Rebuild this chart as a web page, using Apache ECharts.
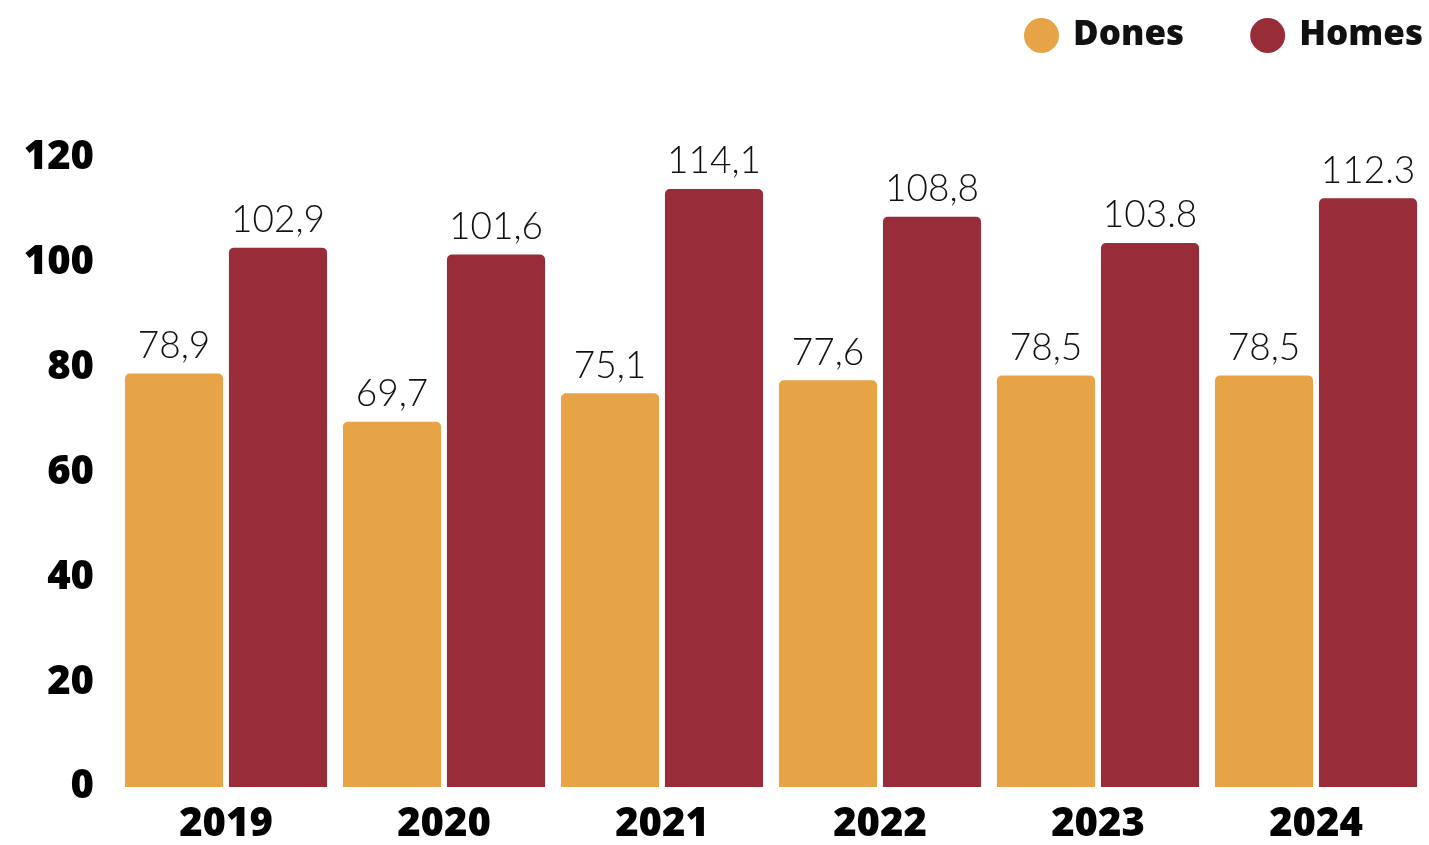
<!DOCTYPE html>
<html>
<head>
<meta charset="utf-8">
<script src="https://cdn.jsdelivr.net/npm/echarts@6/dist/echarts.min.js"></script>
<style>
html,body{margin:0;padding:0;background:#fff;}
#chart{width:1429px;height:845px;}
</style>
</head>
<body>
<div id="chart"></div>
<script>
const categories = ['2019', '2020', '2021', '2022', '2023', '2024'];
const donesValues = [78.9, 69.7, 75.1, 77.6, 78.5, 78.5];
const homesValues = [102.9, 101.6, 114.1, 108.8, 103.8, 112.3];
const donesLabels = ['78,9', '69,7', '75,1', '77,6', '78,5', '78,5'];
const homesLabels = ['102,9', '101,6', '114,1', '108,8', '103.8', '112.3'];
const seriesNames = ['Dones', 'Homes'];
const yTicks = [0, 20, 40, 60, 80, 100, 120];

const chart = echarts.init(document.getElementById('chart'));
const valueLabel = (labels) => ({
  show: true,
  position: 'top',
  distance: 9,
  fontFamily: 'Lato',
  fontWeight: 300,
  fontSize: 37,
  color: '#111',
  formatter: (p) => labels[p.dataIndex]
});
chart.setOption({
  animation: false,
  backgroundColor: '#ffffff',
  legend: {
    right: 1,
    top: 13,
    itemWidth: 35,
    itemHeight: 35,
    itemGap: 66,
    icon: 'circle',
    textStyle: { fontFamily: 'Open Sans', fontWeight: 800, fontSize: 35, color: '#111', padding: [0, 0, 0, 9] },
    data: seriesNames
  },
  grid: { left: 117, right: 4, top: 158, bottom: 56, containLabel: false },
  xAxis: {
    type: 'category',
    data: categories,
    axisLine: { show: false },
    axisTick: { show: false },
    axisLabel: { fontFamily: 'Open Sans', fontWeight: 800, fontSize: 40, color: '#000', margin: 18 }
  },
  yAxis: {
    type: 'value',
    min: 0,
    max: yTicks[yTicks.length - 1],
    interval: yTicks[1] - yTicks[0],
    splitLine: { show: false },
    axisLine: { show: false },
    axisTick: { show: false },
    axisLabel: { fontFamily: 'Open Sans', fontWeight: 800, fontSize: 40, color: '#000', margin: 23 }
  },
  series: [
    {
      name: seriesNames[0],
      type: 'bar',
      data: donesValues,
      barGap: '6%',
      barCategoryGap: '7.3%',
      itemStyle: { color: '#E6A446', borderRadius: [5, 5, 0, 0] },
      label: valueLabel(donesLabels)
    },
    {
      name: seriesNames[1],
      type: 'bar',
      data: homesValues,
      barGap: '6%',
      barCategoryGap: '7.3%',
      itemStyle: { color: '#982D39', borderRadius: [5, 5, 0, 0] },
      label: valueLabel(homesLabels)
    }
  ]
});
</script>
</body>
</html>
